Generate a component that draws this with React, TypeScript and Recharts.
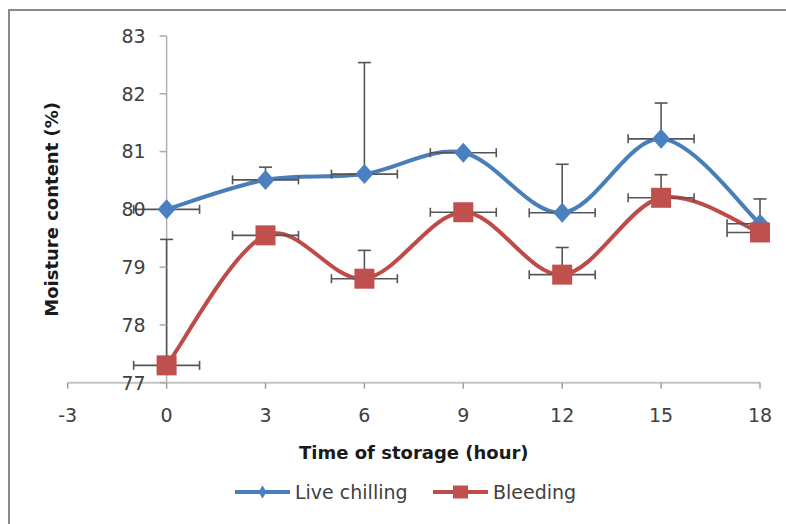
import React from 'react';
import { ComposedChart, Line, Scatter, XAxis, YAxis, ErrorBar, ReferenceLine, ReferenceDot } from 'recharts';

// ---- data ----
const hours = [0, 3, 6, 9, 12, 15, 18];
const liveChilling = [80.0, 80.51, 80.61, 80.98, 79.94, 81.22, 79.75];
const bleeding = [77.3, 79.55, 78.8, 79.95, 78.87, 80.2, 79.6];
// plus-only vertical error bars (null = none drawn)
const liveChillingYErr = [null, 0.22, 1.93, null, 0.84, 0.62, 0.43];
const bleedingYErr = [2.18, null, 0.49, null, 0.47, 0.4, null];
// horizontal error bars (hours): minus / plus
const hourErrMinus = [1, 1, 1, 1, 1, 1, 1];
const hourErrPlus = [1, 1, 1, 1, 1, 1, 0];
const xTicks = [-3, 0, 3, 6, 9, 12, 15, 18];
const yTicks = [77, 78, 79, 80, 81, 82, 83];
const seriesNames = ['Live chilling', 'Bleeding'];

const BLUE = '#4a7ebb';
const BLUE_M = '#4a7fc1';
const RED = '#be4b48';
const RED_M = '#c0504d';
const ERR = '#555555';
const FONT = 'DejaVu Sans';

const buildRows = (vals: number[], yErr: (number | null)[]) =>
  hours.map((x, i) => ({
    x,
    y: vals[i],
    xErr: [hourErrMinus[i], hourErrPlus[i]],
    yErr: yErr[i] == null ? null : [0, yErr[i]],
  }));

const liveRows = buildRows(liveChilling, liveChillingYErr);
const bleedRows = buildRows(bleeding, bleedingYErr);

// Excel-like smoothed line (Catmull-Rom, uniform)
const excelCurve = (context: any) => {
  let pts: [number, number][] = [];
  return {
    areaStart() {},
    areaEnd() {},
    lineStart() {
      pts = [];
    },
    lineEnd() {
      const n = pts.length;
      if (!n) return;
      context.moveTo(pts[0][0], pts[0][1]);
      for (let i = 0; i < n - 1; i++) {
        const p0 = pts[i - 1] || pts[i];
        const p1 = pts[i];
        const p2 = pts[i + 1];
        const p3 = pts[i + 2] || p2;
        context.bezierCurveTo(
          p1[0] + (p2[0] - p0[0]) / 6,
          p1[1] + (p2[1] - p0[1]) / 6,
          p2[0] - (p3[0] - p1[0]) / 6,
          p2[1] - (p3[1] - p1[1]) / 6,
          p2[0],
          p2[1]
        );
      }
    },
    point(x: number, y: number) {
      pts.push([x, y]);
    },
  };
};

const Diamond = (p: any) => {
  const { cx, cy } = p;
  if (cx == null || cy == null) return <g />;
  return <polygon points={`${cx},${cy - 10} ${cx + 9},${cy} ${cx},${cy + 10} ${cx - 9},${cy}`} fill={BLUE_M} />;
};
const Square = (p: any) => {
  const { cx, cy } = p;
  if (cx == null || cy == null) return <g />;
  return <rect x={cx - 10} y={cy - 10} width={20} height={20} fill={RED_M} />;
};
const Empty = () => <g />;

const yTickShape = (v: number) => (p: any) => (
  <g>
    <line x1={p.cx - 7} y1={p.cy} x2={p.cx} y2={p.cy} stroke="#aaaaaa" strokeWidth={1.5} />
    <text x={p.cx - 21} y={p.cy} dy="0.36em" textAnchor="end" fontSize={19} fontFamily={FONT} fill="#404040">
      {v}
    </text>
  </g>
);

const XTitle = (props: any) => {
  const vb = props.viewBox || {};
  return (
    <text x={vb.x + vb.width / 2} y={vb.y + 76} textAnchor="middle" fontSize={18} fontWeight="bold" fontFamily={FONT} fill="#1a1a1a">
      Time of storage (hour)
    </text>
  );
};
const YTitle = (props: any) => {
  const vb = props.viewBox || {};
  const x = vb.x + 50;
  const y = vb.y + vb.height / 2;
  return (
    <text x={x} y={y} transform={`rotate(-90 ${x} ${y})`} textAnchor="middle" fontSize={18} fontWeight="bold" fontFamily={FONT} fill="#1a1a1a">
      Moisture content (%)
    </text>
  );
};

const LegendItem = ({ left, color, marker, label }: any) => (
  <div style={{ position: 'absolute', left, top: 480, height: 24, display: 'flex', alignItems: 'center' }}>
    <svg width={55} height={24} style={{ display: 'block' }}>
      <line x1={0} y1={12} x2={55} y2={12} stroke={color} strokeWidth={4} />
      {marker === 'diamond' ? (
        <polygon points="27.5,5.5 31.5,12 27.5,18.5 23.5,12" fill={BLUE_M} />
      ) : (
        <rect x={20} y={5.5} width={15} height={13} fill={RED_M} />
      )}
    </svg>
    <span style={{ marginLeft: 5, fontSize: 19, fontFamily: FONT, color: '#404040', lineHeight: '24px', whiteSpace: 'nowrap' }}>{label}</span>
  </div>
);

export default function App() {
  return (
    <div style={{ position: 'fixed', left: 0, top: 0, width: 786, height: 524, overflow: 'hidden', background: '#ffffff' }}>
      <div style={{ position: 'absolute', left: 8, top: 9, width: 800, height: 600, border: '2px solid #8a8a8a', boxSizing: 'border-box' }} />
      <div style={{ position: 'absolute', left: 0, top: 0 }}>
        <ComposedChart width={786} height={524} margin={{ top: 36, right: 26, bottom: 111.3, left: 7.7 }}>
          <XAxis
            type="number"
            dataKey="x"
            domain={[-3, 18]}
            ticks={xTicks}
            interval={0}
            axisLine={{ stroke: '#c4c4c4', strokeWidth: 2 }}
            tickLine={{ stroke: '#a0a0a0', strokeWidth: 1.5 }}
            tickSize={6}
            tickMargin={20}
            tick={{ fill: '#404040', fontSize: 19, fontFamily: FONT }}
            height={30}
            label={{ content: XTitle }}
          />
          <YAxis
            type="number"
            dataKey="y"
            domain={[77, 83]}
            ticks={yTicks}
            width={60}
            tick={false}
            axisLine={false}
            tickLine={false}
            label={{ content: YTitle }}
          />
          <ReferenceLine x={0} stroke="#b0b0b0" strokeWidth={1.5} />
          {yTicks.map((v) => (
            <ReferenceDot key={v} x={0} y={v} r={1} shape={yTickShape(v)} ifOverflow="visible" />
          ))}
          <Line data={liveRows} dataKey="y" name={seriesNames[0]} type={excelCurve as any} stroke={BLUE} strokeWidth={4} dot={false} activeDot={false} isAnimationActive={false} />
          <Line data={bleedRows} dataKey="y" name={seriesNames[1]} type={excelCurve as any} stroke={RED} strokeWidth={4} dot={false} activeDot={false} isAnimationActive={false} />
          <Scatter data={liveRows} shape={Empty} legendType="none" isAnimationActive={false}>
            <ErrorBar dataKey="xErr" direction="x" width={4.5} stroke={ERR} strokeWidth={1.6} />
            <ErrorBar dataKey="yErr" direction="y" width={6.5} stroke={ERR} strokeWidth={1.6} />
          </Scatter>
          <Scatter data={bleedRows} shape={Empty} legendType="none" isAnimationActive={false}>
            <ErrorBar dataKey="xErr" direction="x" width={4.5} stroke={ERR} strokeWidth={1.6} />
            <ErrorBar dataKey="yErr" direction="y" width={6.5} stroke={ERR} strokeWidth={1.6} />
          </Scatter>
          <Scatter data={liveRows} shape={Diamond} legendType="none" isAnimationActive={false} />
          <Scatter data={bleedRows} shape={Square} legendType="none" isAnimationActive={false} />
        </ComposedChart>
      </div>
      <LegendItem left={235} color={BLUE} marker="diamond" label={seriesNames[0]} />
      <LegendItem left={433} color={RED} marker="square" label={seriesNames[1]} />
    </div>
  );
}
